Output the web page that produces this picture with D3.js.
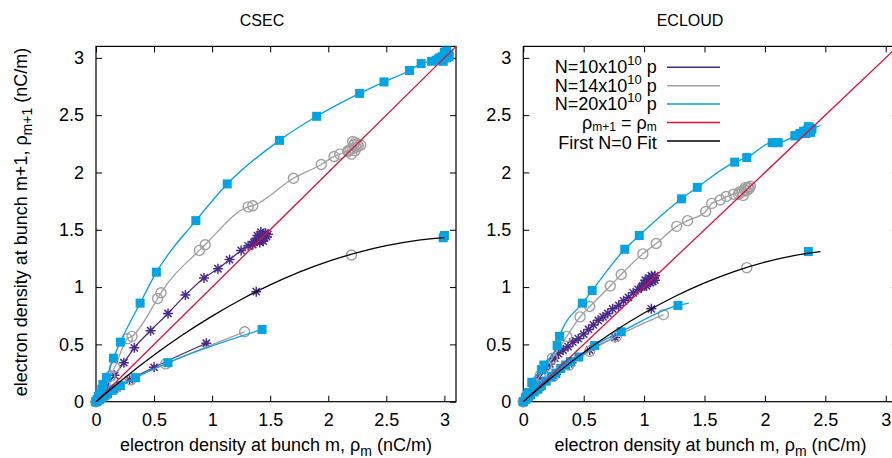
<!DOCTYPE html>
<html><head><meta charset="utf-8">
<script src="https://cdn.jsdelivr.net/npm/d3@7"></script>
<style>
body{margin:0;background:#fff;}
svg text{font-family:"Liberation Sans",Arial,Helvetica,sans-serif;fill:#000;}
</style></head><body>
<svg id="c" width="892" height="458"></svg>
<script>
// ---------- tick values / labels ----------
const tickValues = [0, 0.5, 1, 1.5, 2, 2.5, 3];
const tickLabels = ["0", "0.5", "1", "1.5", "2", "2.5", "3"];

// ---------- CSEC: rho_{m+1} vs rho_m ----------
const csecN10Up = [[0,0],[0.03,0.05],[0.08,0.12],[0.16,0.23],[0.24,0.34],[0.33,0.47],[0.47,0.62],[0.62,0.77],[0.77,0.93],[0.93,1.08],[1.05,1.16],[1.15,1.24],[1.25,1.32],[1.31,1.36],[1.36,1.39]];
const csecN10Sat = [[1.35,1.37],[1.37,1.40],[1.39,1.41],[1.40,1.43],[1.42,1.44],[1.44,1.46],[1.46,1.47],[1.41,1.39],[1.43,1.41],[1.45,1.43],[1.39,1.45],[1.47,1.44],[1.42,1.48],[1.48,1.46],[1.44,1.40]];
const csecN10Down = [[0,0],[0.05,0.04],[0.1,0.07],[0.18,0.12],[0.29,0.19],[0.50,0.30],[0.95,0.51]];
const csecN10Lone = [[1.38,0.96]];

const csecN14Up = [[0,0],[0.04,0.06],[0.08,0.14],[0.12,0.22],[0.16,0.30],[0.27,0.55],[0.31,0.57],[0.53,0.90],[0.56,0.95],[0.89,1.32],[0.94,1.37],[1.31,1.70],[1.35,1.71],[1.70,1.95],[1.94,2.07],[2.05,2.14],[2.10,2.16],[2.17,2.19]];
const csecN14Sat = [[2.17,2.18],[2.19,2.20],[2.21,2.21],[2.22,2.24],[2.23,2.26],[2.21,2.27],[2.24,2.22],[2.26,2.23],[2.28,2.24],[2.20,2.16],[2.23,2.19],[2.25,2.25]];
const csecN14Down = [[0,0],[0.04,0.03],[0.09,0.06],[0.16,0.11],[0.30,0.19],[0.60,0.33],[1.28,0.61]];
const csecN14Lone = [[2.20,1.28]];

const csecN20Up = [[0,0],[0.01,0.02],[0.02,0.045],[0.035,0.07],[0.05,0.11],[0.06,0.15],[0.09,0.21],[0.15,0.38],[0.21,0.52],[0.38,0.86],[0.52,1.13],[0.86,1.58],[1.13,1.90],[1.58,2.28],[1.90,2.49],[2.27,2.69],[2.48,2.79],[2.70,2.89],[2.80,2.95],[2.89,2.97],[2.95,2.99]];
const csecN20Sat = [[2.93,2.98],[2.96,3.00],[2.98,3.01],[3.00,3.02],[3.01,3.04],[3.02,3.00],[3.03,3.02],[3.04,3.03],[2.99,2.97],[3.00,3.05],[3.02,3.06],[3.04,3.01]];
const csecN20Down = [[0,0],[0.015,0.01],[0.03,0.02],[0.05,0.035],[0.07,0.05],[0.10,0.07],[0.14,0.10],[0.21,0.14],[0.34,0.21],[0.62,0.34],[1.43,0.63]];
const csecN20Lone = [[2.99,1.43],[3.00,1.45]];

const csecFit = [[0,0],[0.25,0.212],[0.5,0.407],[0.75,0.586],[1,0.747],[1.25,0.892],[1.5,1.019],[1.75,1.13],[2,1.224],[2.25,1.301],[2.5,1.361],[2.75,1.405],[3,1.431]];

// ---------- ECLOUD ----------
const ecN10Up = [[0,0],[0.04,0.07],[0.08,0.14],[0.13,0.21],[0.18,0.28],[0.22,0.33],[0.26,0.38],[0.29,0.42],[0.33,0.45],[0.37,0.48],[0.41,0.52],[0.455,0.55],[0.50,0.59],[0.54,0.63],[0.58,0.67],[0.62,0.71],[0.66,0.74],[0.70,0.77],[0.74,0.81],[0.79,0.84],[0.83,0.88],[0.87,0.91],[0.91,0.95],[0.95,0.98],[0.99,1.01]];
const ecN10Sat = [[0.98,1.00],[1.00,1.03],[1.02,1.01],[1.03,1.05],[1.05,1.04],[1.06,1.07],[1.04,1.08],[1.07,1.05],[1.08,1.08],[1.09,1.06],[1.01,1.06],[1.06,1.10],[1.09,1.10]];
const ecN10Down = [[0,0],[0.05,0.05],[0.14,0.13],[0.27,0.24],[0.40,0.34],[0.55,0.45],[0.76,0.56]];
const ecN10Lone = [[1.06,0.81]];

const ecN14Up = [[0,0],[0.04,0.07],[0.09,0.15],[0.14,0.23],[0.19,0.31],[0.24,0.38],[0.36,0.57],[0.47,0.74],[0.55,0.83],[0.72,1.01],[0.81,1.11],[0.99,1.29],[1.10,1.38],[1.27,1.53],[1.36,1.58],[1.51,1.66],[1.56,1.73],[1.63,1.76],[1.68,1.79],[1.74,1.81],[1.79,1.83]];
const ecN14Sat = [[1.78,1.81],[1.81,1.83],[1.83,1.85],[1.85,1.84],[1.86,1.87],[1.84,1.87],[1.87,1.86],[1.82,1.80],[1.88,1.88]];
const ecN14Down = [[0,0],[0.05,0.05],[0.12,0.11],[0.25,0.22],[0.38,0.32],[0.55,0.44],[0.77,0.57],[1.16,0.76]];
const ecN14Lone = [[1.85,1.17]];

const ecN20Up = [[0,0],[0.02,0.04],[0.04,0.08],[0.07,0.17],[0.15,0.28],[0.17,0.32],[0.28,0.49],[0.30,0.57],[0.49,0.86],[0.57,0.97],[0.84,1.33],[0.96,1.45],[1.31,1.77],[1.44,1.87],[1.75,2.09],[1.85,2.13],[2.06,2.26],[2.11,2.26],[2.25,2.32]];
const ecN20UpTail = [[2.46,2.41]];
const ecN20Sat = [[2.25,2.32],[2.29,2.34],[2.32,2.36],[2.35,2.37],[2.37,2.39],[2.39,2.38],[2.34,2.34],[2.38,2.35],[2.36,2.40]];
const ecN20Down = [[0,0],[0.02,0.02],[0.04,0.04],[0.06,0.06],[0.09,0.085],[0.12,0.11],[0.15,0.14],[0.19,0.18],[0.23,0.22],[0.27,0.25],[0.31,0.29],[0.35,0.32],[0.39,0.35],[0.46,0.39],[0.59,0.49],[0.81,0.61],[1.28,0.84]];
const ecN20DownTail = [[1.37,0.86]];
const ecN20Lone = [[2.36,1.31]];

const ecFit = [[0,0],[0.25,0.225],[0.5,0.429],[0.75,0.612],[1,0.774],[1.25,0.916],[1.5,1.037],[1.75,1.138],[2,1.218],[2.25,1.277],[2.46,1.31]];

const identity = [[0,0],[3.1,3.1]];

// ---------- styling ----------
const COL = {n10:"#4a2a8c", n14:"#a0a0a0", n20:"#00a3e3", eq:"#e0103a", fit:"#000000"};
const FONT = 18;

const svg = d3.select("#c");

function sortX(a){ return a.slice().sort((p,q)=>p[0]-q[0]); }

function marker(g, kind, pts, x, y){
  const sel = g.append("g").selectAll("g").data(pts).join("g")
    .attr("transform", d=>`translate(${x(d[0])},${y(d[1])})`);
  if(kind==="sq"){
    sel.append("rect").attr("x",-4.5).attr("y",-4.5).attr("width",9).attr("height",9).attr("fill",COL.n20);
  } else if(kind==="ci"){
    sel.append("circle").attr("r",5).attr("fill","none").attr("stroke",COL.n14).attr("stroke-width",1.4);
  } else {
    sel.append("path").attr("d","M-5,0H5M0,-5V5M-3.6,-3.6L3.6,3.6M-3.6,3.6L3.6,-3.6")
      .attr("stroke",COL.n10).attr("stroke-width",1.5).attr("fill","none");
  }
}

function drawPanel(p){
  const x = d3.scaleLinear().domain([0,3.1]).range([p.x0,p.x1]);
  const y = d3.scaleLinear().domain([0,3.1]).range([401.7,46.4]);
  const g = svg.append("g");

  // axes with inward ticks on all four sides
  const fmt = d=>tickLabels[tickValues.indexOf(d)];
  const bottom = g.append("g").attr("transform",`translate(0,${y(0)})`)
    .call(d3.axisBottom(x).tickValues(tickValues).tickFormat(fmt).tickSize(-6).tickPadding(12));
  const top = g.append("g").attr("transform",`translate(0,${y(3.1)})`)
    .call(d3.axisTop(x).tickValues(tickValues).tickFormat("").tickSize(-6));
  const left = g.append("g").attr("transform",`translate(${p.x0},0)`)
    .call(d3.axisLeft(y).tickValues(tickValues).tickFormat(fmt).tickSize(-6).tickPadding(12));
  const right = g.append("g").attr("transform",`translate(${p.x1},0)`)
    .call(d3.axisRight(y).tickValues(tickValues).tickFormat("").tickSize(-6));
  [bottom,top,left,right].forEach(a=>{
    a.select(".domain").remove();
    a.selectAll(".tick line").attr("stroke","#000").attr("stroke-width",1);
    a.selectAll(".tick text").attr("font-size",FONT).attr("font-family",null);
  });
  g.append("rect").attr("x",p.x0).attr("y",y(3.1)).attr("width",p.x1-p.x0).attr("height",y(0)-y(3.1))
    .attr("fill","none").attr("stroke","#000").attr("stroke-width",1.2);

  const line = d3.line().x(d=>x(d[0])).y(d=>y(d[1])).curve(d3.curveMonotoneX);
  const straight = d3.line().x(d=>x(d[0])).y(d=>y(d[1]));
  const plot = g.append("g");

  p.series.forEach(s=>{
    s.branches.forEach(b=>{
      plot.append("path").attr("d", line(sortX(b))).attr("fill","none")
        .attr("stroke",s.color).attr("stroke-width",1.3);
    });
    s.marks.forEach(m=>marker(plot, s.kind, m, x, y));
  });
  plot.append("path").attr("d", straight(identity)).attr("fill","none").attr("stroke",COL.eq).attr("stroke-width",1.3);
  plot.append("path").attr("d", line(p.fit)).attr("fill","none").attr("stroke",COL.fit).attr("stroke-width",1.3);

  // title
  svg.append("text").attr("x",p.titleX).attr("y",26).attr("text-anchor","middle")
    .attr("font-size",16).text(p.title);

  // x axis label
  const xl = svg.append("text").attr("x",(p.x0+Math.min(p.x1,898))/2).attr("y",451)
    .attr("text-anchor","middle").attr("font-size",FONT);
  xl.append("tspan").text("electron density at bunch m, ρ");
  xl.append("tspan").attr("dy",5).attr("font-size",14).text("m");
  xl.append("tspan").attr("dy",-5).text(" (nC/m)");
  return {x,y};
}

drawPanel({
  title:"CSEC", titleX:262, x0:96, x1:456, fit:csecFit,
  series:[
    {kind:"as", color:COL.n10, branches:[csecN10Up,csecN10Down], marks:[csecN10Up,csecN10Sat,csecN10Down,csecN10Lone]},
    {kind:"ci", color:COL.n14, branches:[csecN14Up,csecN14Down], marks:[csecN14Up,csecN14Sat,csecN14Down,csecN14Lone]},
    {kind:"sq", color:COL.n20, branches:[csecN20Up,csecN20Down], marks:[csecN20Up,csecN20Sat,csecN20Down,csecN20Lone]}
  ]
});
drawPanel({
  title:"ECLOUD", titleX:690, x0:523.3, x1:897.8, fit:ecFit,
  series:[
    {kind:"as", color:COL.n10, branches:[ecN10Up,ecN10Down], marks:[ecN10Up,ecN10Sat,ecN10Down,ecN10Lone]},
    {kind:"ci", color:COL.n14, branches:[ecN14Up,ecN14Down], marks:[ecN14Up,ecN14Sat,ecN14Down,ecN14Lone]},
    {kind:"sq", color:COL.n20, branches:[ecN20Up.concat(ecN20UpTail),ecN20Down.concat(ecN20DownTail)], marks:[ecN20Up,ecN20Sat,ecN20Down,ecN20Lone]}
  ]
});

// y axis label (left panel only)
const yl = svg.append("text").attr("transform","translate(27,222) rotate(-90)")
  .attr("text-anchor","middle").attr("font-size",FONT);
yl.append("tspan").text("electron density at bunch m+1, ρ");
yl.append("tspan").attr("dy",5).attr("font-size",14).text("m+1");
yl.append("tspan").attr("dy",-5).text(" (nC/m)");

// legend (ECLOUD panel)
const legend = svg.append("g");
const rows = [
  {c:COL.n10, parts:[["N=10x10",0,null],["10",-8,13],[" p",8,null]]},
  {c:COL.n14, parts:[["N=14x10",0,null],["10",-8,13],[" p",8,null]]},
  {c:COL.n20, parts:[["N=20x10",0,null],["10",-8,13],[" p",8,null]]},
  {c:COL.eq,  parts:[["ρ",0,null],["m+1",2,12],[" = ρ",-2,null],["m",2,12]]},
  {c:COL.fit, parts:[["First N=0 Fit",0,null]]}
];
rows.forEach((r,i)=>{
  const cy = 67.3 + i*18.4;
  legend.append("line").attr("x1",667).attr("x2",720).attr("y1",cy).attr("y2",cy)
    .attr("stroke",r.c).attr("stroke-width",1.5);
  const t = legend.append("text").attr("x",656.7).attr("y",cy+(i===4?8:6)).attr("text-anchor","end").attr("font-size",FONT);
  r.parts.forEach(([s,dy,fs])=>{
    const ts = t.append("tspan").attr("dy",dy).text(s);
    if(fs) ts.attr("font-size",fs);
  });
});
</script>
</body></html>
